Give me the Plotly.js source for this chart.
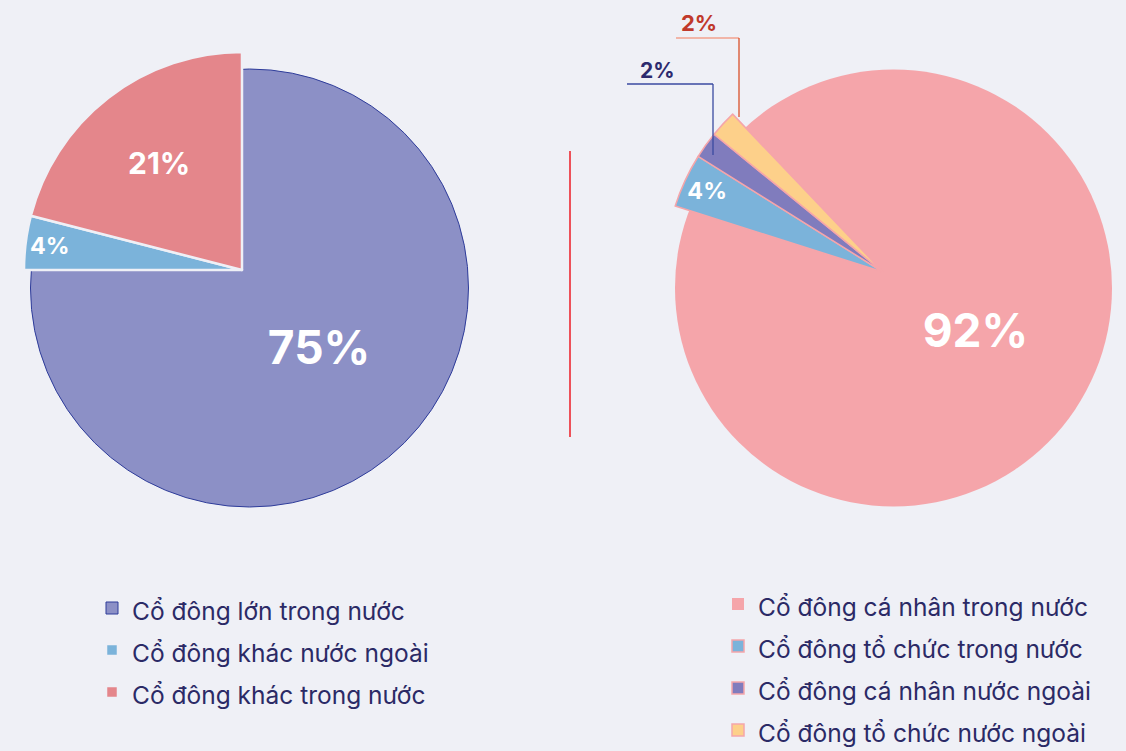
<!DOCTYPE html>
<html>
<head>
<meta charset="utf-8">
<script src="https://cdn.plot.ly/plotly-3.0.1.min.js"></script>
<style>html,body{margin:0;padding:0;background:#eff0f6;}</style>
</head>
<body>
<div id="chart" style="width:1126px;height:751px;"></div>
<script>
// ---- data ----
const leftLabels = ['Cổ đông lớn trong nước', 'Cổ đông khác nước ngoài', 'Cổ đông khác trong nước'];
const leftValues = [75, 4, 21];
const rightLabels = ['Cổ đông cá nhân trong nước', 'Cổ đông tổ chức trong nước', 'Cổ đông cá nhân nước ngoài', 'Cổ đông tổ chức nước ngoài'];
const rightValues = [92, 4, 2, 2];

// ---- styles ----
const W = 1126, H = 751;
const BG = '#eff0f6';
const leftColors = ['#8c90c6', '#7bb3da', '#e4868b'];
const rightColors = ['#f5a5aa', '#7bb3da', '#807cbd', '#fdd08a'];
const FONT = 'Inter, "Noto Sans", sans-serif';
const legendLabel = s => '<span style="font-size:24.5px">' + s + '</span>';

function domX(cx, r) { return [(cx - r) / W, (cx + r) / W]; }
function domY(cy, r) { return [(H - cy - r) / H, (H - cy + r) / H]; }
const pxX = x => x / W;
const pxY = y => 1 - y / H;

const traces = [
  // left: full disk (background of the main slice)
  {
    type: 'pie', legend: 'legend', sort: false,
    labels: [legendLabel(leftLabels[0])], values: [leftValues[0]],
    marker: {colors: [leftColors[0]], line: {color: '#2e3c9a', width: 1}},
    textinfo: 'none', hoverinfo: 'skip',
    domain: {x: domX(249.5, 219), y: domY(288, 219)}
  },
  // left: slices
  {
    type: 'pie', legend: 'legend', sort: false, direction: 'clockwise', rotation: 0,
    labels: leftLabels.map(legendLabel), values: leftValues,
    marker: {
      colors: ['rgba(0,0,0,0)', leftColors[1], leftColors[2]],
      line: {color: ['rgba(0,0,0,0)', BG, BG], width: [0, 2.5, 2.5]}
    },
    texttemplate: '%{value}%', textposition: 'inside', insidetextorientation: 'horizontal',
    insidetextfont: {family: FONT, weight: 700, color: '#ffffff', size: [46, 30, 30]},
    domain: {x: domX(242, 218), y: domY(270, 218)}
  },
  // right: full disk
  {
    type: 'pie', legend: 'legend2', sort: false,
    labels: [legendLabel(rightLabels[0])], values: [rightValues[0]],
    marker: {colors: [rightColors[0]], line: {width: 0}},
    textinfo: 'none', hoverinfo: 'skip',
    domain: {x: domX(893.5, 218.5), y: domY(288, 218.5)}
  },
  // right: slices
  {
    type: 'pie', legend: 'legend2', sort: false, direction: 'clockwise', rotation: -43.6,
    labels: rightLabels.map(legendLabel), values: rightValues,
    marker: {
      colors: ['rgba(0,0,0,0)', rightColors[1], rightColors[2], rightColors[3]],
      line: {color: ['rgba(0,0,0,0)', rightColors[0], rightColors[0], rightColors[0]], width: [0, 1.5, 1.5, 1.5]}
    },
    texttemplate: '%{value}%', textposition: ['inside', 'inside', 'none', 'none'],
    insidetextorientation: 'horizontal',
    insidetextfont: {family: FONT, weight: 700, color: '#ffffff', size: [46, 30, 22, 22]},
    domain: {x: domX(883, 218), y: domY(272, 218)}
  }
];

const legendCommon = {
  orientation: 'v', xanchor: 'left', yanchor: 'top', bgcolor: 'rgba(0,0,0,0)',
  itemclick: false, itemdoubleclick: false
};

const layout = {
  width: W, height: H,
  margin: {l: 0, r: 0, t: 0, b: 0, autoexpand: false},
  paper_bgcolor: BG, plot_bgcolor: BG,
  showlegend: true,
  legend: Object.assign({}, legendCommon, {x: pxX(92), y: pxY(582),
    font: {family: FONT, size: 30, color: '#2b2a66'}}),
  legend2: Object.assign({}, legendCommon, {x: pxX(718), y: pxY(578),
    font: {family: FONT, size: 30, color: '#2b2a66'}}),
  shapes: [
    // divider
    {type: 'line', xref: 'paper', yref: 'paper', x0: pxX(570), x1: pxX(570), y0: pxY(151), y1: pxY(437),
     line: {color: '#ed1c24', width: 1.5}},
    // leader for foreign individual 2%
    {type: 'line', xref: 'paper', yref: 'paper', x0: pxX(627), x1: pxX(713), y0: pxY(84), y1: pxY(84),
     line: {color: '#3a4aa0', width: 1.3}},
    {type: 'line', xref: 'paper', yref: 'paper', x0: pxX(713), x1: pxX(713), y0: pxY(84), y1: pxY(155),
     line: {color: '#3a4aa0', width: 1.3}},
    // leader for foreign institutional 2%
    {type: 'line', xref: 'paper', yref: 'paper', x0: pxX(676), x1: pxX(739), y0: pxY(38), y1: pxY(38),
     line: {color: '#f2a28e', width: 1.3}},
    {type: 'line', xref: 'paper', yref: 'paper', x0: pxX(739), x1: pxX(739), y0: pxY(38), y1: pxY(117),
     line: {color: '#d9502a', width: 1.3}}
  ],
  annotations: [
    {xref: 'paper', yref: 'paper', x: pxX(657), y: pxY(70), xanchor: 'center', yanchor: 'middle', showarrow: false,
     text: rightValues[2] + '%', font: {family: FONT, weight: 700, size: 21, color: '#2d2a6e'}},
    {xref: 'paper', yref: 'paper', x: pxX(699), y: pxY(23), xanchor: 'center', yanchor: 'middle', showarrow: false,
     text: rightValues[3] + '%', font: {family: FONT, weight: 700, size: 22, color: '#c0392b'}}
  ]
};

Plotly.newPlot('chart', traces, layout, {displayModeBar: false, staticPlot: true});
</script>
</body>
</html>
